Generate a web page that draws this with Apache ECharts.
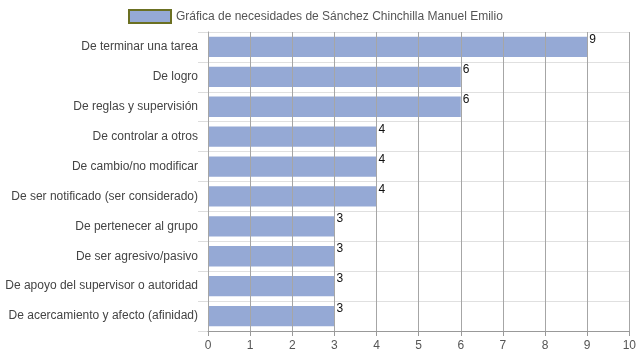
<!DOCTYPE html>
<html><head><meta charset="utf-8">
<script src="https://cdn.jsdelivr.net/npm/echarts@6/dist/echarts.min.js"></script>
<style>html,body{margin:0;padding:0;background:#fff}#c{width:639px;height:360px}</style>
</head><body><div id="c"></div>
<script>
const categories = ["De terminar una tarea","De logro","De reglas y supervisión","De controlar a otros","De cambio/no modificar","De ser notificado (ser considerado)","De pertenecer al grupo","De ser agresivo/pasivo","De apoyo del supervisor o autoridad","De acercamiento y afecto (afinidad)"];
const values = [9,6,6,4,4,4,3,3,3,3];
const seriesName = "Gráfica de necesidades de Sánchez Chinchilla Manuel Emilio";
const xTicks = [0,1,2,3,4,5,6,7,8,9,10];

const chart = echarts.init(document.getElementById('c'), null, {renderer:'canvas'});
chart.setOption({
  animation:false,
  textStyle:{fontFamily:'Liberation Sans, Arial, sans-serif'},
  legend:{
    top:9, left:128, padding:0, itemWidth:42, itemHeight:13, itemGap:5,
    icon:'rect',
    textStyle:{fontSize:12,color:'#555',fontFamily:'Liberation Sans, Arial, sans-serif'},
    itemStyle:{color:'#95a9d5',borderColor:'#6b7022',borderWidth:2},
    data:[seriesName]
  },
  grid:{left:208,right:9,top:32,bottom:29},
  xAxis:{
    type:'value', min:xTicks[0], max:xTicks[xTicks.length-1], interval:1, z:5,
    axisLine:{show:true,lineStyle:{color:'#999'}},
    axisTick:{show:true,length:5,lineStyle:{color:'#999'}},
    axisLabel:{color:'#555',fontSize:12,margin:9},
    splitLine:{show:true,lineStyle:{color:'#a6a6a6',width:1}}
  },
  yAxis:{
    type:'category', inverse:true, data:categories,
    axisLine:{show:true,lineStyle:{color:'#999'}},
    axisTick:{show:true,length:10,lineStyle:{color:'#ddd'}},
    axisLabel:{color:'#444',fontSize:12,margin:10},
    splitLine:{show:true,lineStyle:{color:'#e0e0e0'}}
  },
  series:[{
    name:seriesName, type:'bar', data:values, barCategoryGap:'32%',
    itemStyle:{color:'#95a9d5'},
    label:{show:true,position:['100%',0],offset:[2,-3],color:'#111',fontSize:12}
  }]
});
</script></body></html>
